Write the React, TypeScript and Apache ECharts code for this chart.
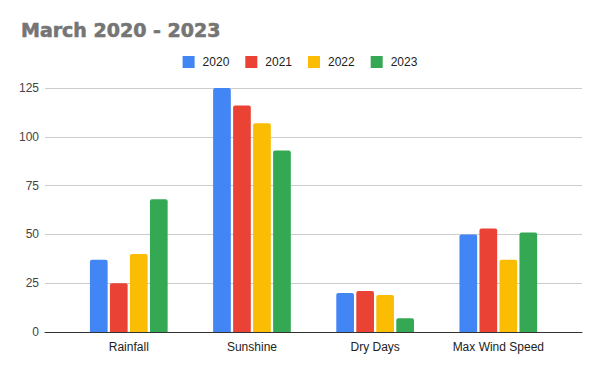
import React, { useEffect, useRef } from "react";
import * as echarts from "echarts";

const categories = ["Rainfall", "Sunshine", "Dry Days", "Max Wind Speed"];
const years = ["2020", "2021", "2022", "2023"];
const values2020 = [37, 125, 20, 50];
const values2021 = [25, 116, 21, 53];
const values2022 = [40, 107, 19, 37];
const values2023 = [68, 93, 7, 51];
const seriesValues = [values2020, values2021, values2022, values2023];
const colors = ["#4285F4", "#EA4335", "#FBBC04", "#34A853"];

export default function App() {
  const ref = useRef<HTMLDivElement>(null);
  useEffect(() => {
    if (!ref.current) return;
    const chart = echarts.init(ref.current, null, { renderer: "svg" });
    const font = "'Liberation Sans', Arial, sans-serif";
    chart.setOption({
      animation: false,
      backgroundColor: "#ffffff",
      title: {
        text: "March 2020 - 2023",
        left: 16,
        top: 15,
        textStyle: {
          fontFamily: "'DejaVu Sans', sans-serif",
          fontWeight: 900,
          fontSize: 19,
          color: "#757575",
          textBorderColor: "#757575",
          textBorderWidth: 0.6,
        },
      },
      legend: {
        data: years,
        left: "center",
        top: 51,
        icon: "rect",
        itemWidth: 12,
        itemHeight: 12,
        itemGap: 16,
        textStyle: { fontFamily: font, fontSize: 12, color: "#222", padding: [0, 0, 0, 3] },
      },
      grid: [
        { left: 45, right: 18, top: 88, bottom: 39 },
        { left: 67.2, right: 40.1, top: 88, bottom: 39 },
      ],
      xAxis: [
        {
          gridIndex: 0,
          type: "category",
          data: [""],
          z: 5,
          axisLine: { show: true, lineStyle: { color: "#333", width: 1 } },
          axisTick: { show: false },
          axisLabel: { show: false },
        },
        {
          gridIndex: 1,
          type: "category",
          data: categories,
          axisLine: { show: false },
          axisTick: { show: false },
          axisLabel: { fontFamily: font, fontSize: 12, color: "#222", margin: 9 },
        },
      ],
      yAxis: [
        {
          gridIndex: 0,
          type: "value",
          min: 0,
          max: 125,
          interval: 25,
          axisLine: { show: false },
          axisTick: { show: false },
          axisLabel: { fontFamily: font, fontSize: 12, color: "#444", margin: 6 },
          splitLine: { lineStyle: { color: "#cccccc", width: 1 } },
        },
        {
          gridIndex: 1,
          type: "value",
          min: 0,
          max: 125,
          interval: 25,
          show: false,
          splitLine: { show: false },
        },
      ],
      series: years.map((y, i) => ({
        name: y,
        type: "bar",
        xAxisIndex: 1,
        yAxisIndex: 1,
        data: seriesValues[i],
        barWidth: 17.7,
        barGap: "13%",
        itemStyle: { color: colors[i], borderRadius: [2, 2, 0, 0] },
      })),
    });
    return () => chart.dispose();
  }, []);
  return (
    <div
      ref={ref}
      style={{ position: "absolute", left: 0, top: 0, width: 600, height: 371 }}
    />
  );
}
